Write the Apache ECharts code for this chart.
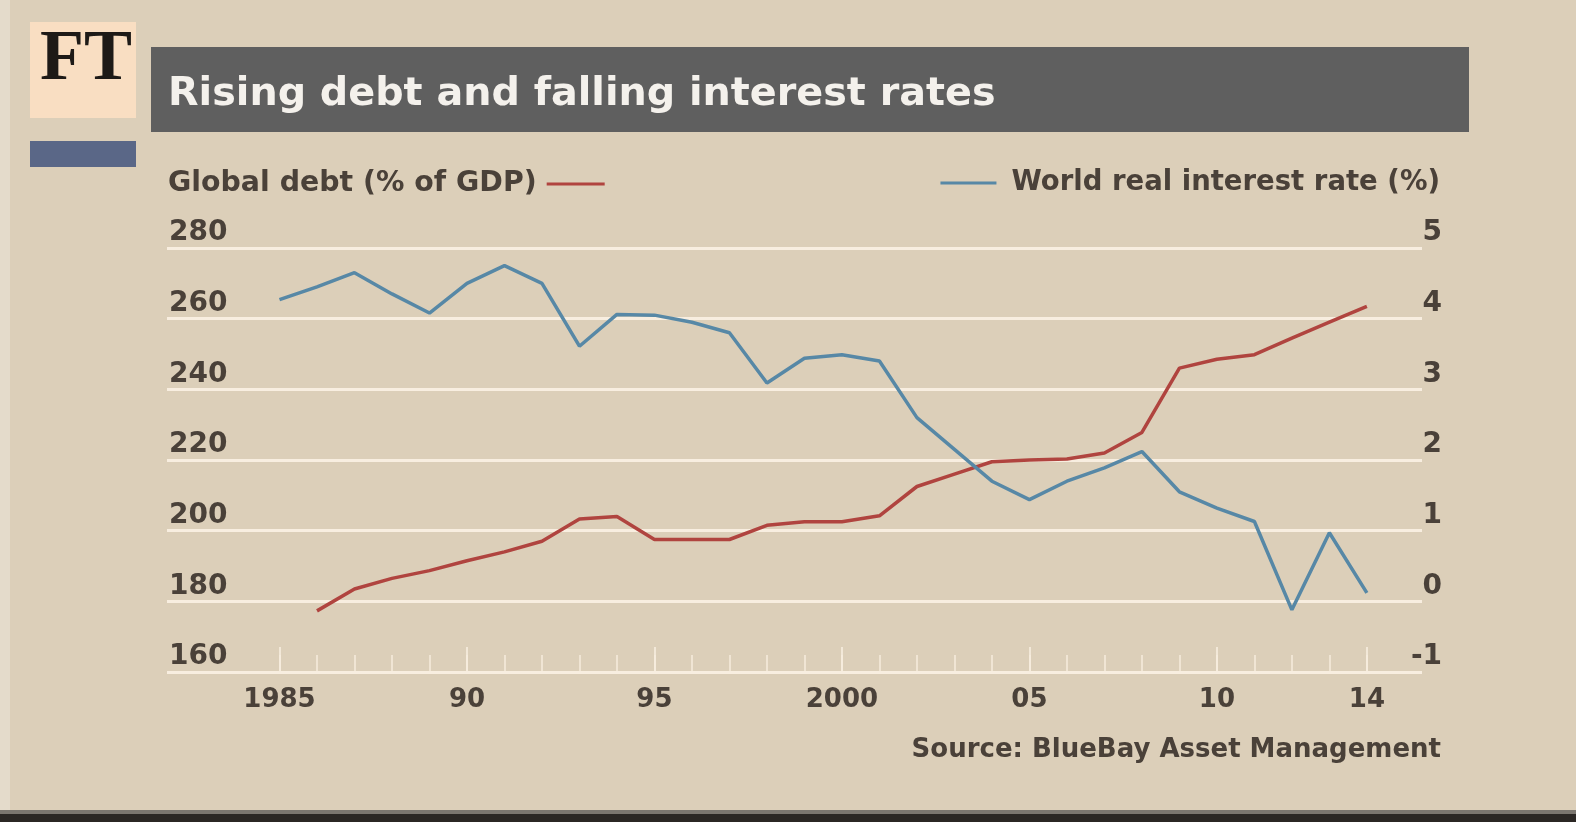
<!DOCTYPE html>
<html>
<head>
<meta charset="utf-8">
<title>Rising debt and falling interest rates</title>
<script src="https://cdn.jsdelivr.net/npm/echarts@6/dist/echarts.min.js"></script>
<style>
  html, body { margin: 0; padding: 0; background: #dccfb9; }
  #chart { width: 1576px; height: 822px; }
</style>
</head>
<body>
<div id="chart"></div>
<script>
// Global debt, % of GDP (left axis)
const debtYears = [1986, 1987, 1988, 1989, 1990, 1991, 1992, 1993, 1994, 1995,
  1996, 1997, 1998, 1999, 2000, 2001, 2002, 2003, 2004, 2005,
  2006, 2007, 2008, 2009, 2010, 2011, 2012, 2013, 2014];
const debtValues = [177.3, 183.5, 186.5, 188.7, 191.5, 194.0, 197.0, 203.3, 204.0, 197.5,
  197.5, 197.5, 201.5, 202.5, 202.5, 204.2, 212.5, 216.0, 219.5, 220.0,
  220.3, 222.0, 227.8, 246.0, 248.5, 249.8, 254.5, 259.0, 263.5];

// World real interest rate, % (right axis)
const rateYears = [1985, 1986, 1987, 1988, 1989, 1990, 1991, 1992, 1993, 1994,
  1995, 1996, 1997, 1998, 1999, 2000, 2001, 2002, 2003, 2004,
  2005, 2006, 2007, 2008, 2009, 2010, 2011, 2012, 2013, 2014];
const rateValues = [4.27, 4.45, 4.65, 4.35, 4.08, 4.50, 4.75, 4.50, 3.61, 4.06,
  4.05, 3.95, 3.80, 3.09, 3.44, 3.49, 3.40, 2.60, 2.15, 1.70,
  1.44, 1.70, 1.89, 2.12, 1.55, 1.32, 1.13, -0.12, 0.97, 0.12];

// x-axis labels and tick positions
const labelYears = [1985, 1990, 1995, 2000, 2005, 2010, 2014];
const labelTexts = ['1985', '90', '95', '2000', '05', '10', '14'];
const minorTickYears = [1985, 1986, 1987, 1988, 1989, 1990, 1991, 1992, 1993, 1994,
  1995, 1996, 1997, 1998, 1999, 2000, 2001, 2002, 2003, 2004,
  2005, 2006, 2007, 2008, 2009, 2010, 2011, 2012, 2013, 2014];

const seriesNames = ['Global debt (% of GDP)', 'World real interest rate (%)'];
const titleText = 'Rising debt and falling interest rates';
const sourceText = 'Source: BlueBay Asset Management';

const RED = '#b0443f';
const BLUE = '#5788a6';
const INK = '#4a4139';
const GRID = '#f8eee0';
const FONT = '"DejaVu Sans", sans-serif';

const chart = echarts.init(document.getElementById('chart'));

const xLabelFor = v => {
  const i = labelYears.indexOf(Math.round(v));
  return i >= 0 ? labelTexts[i] : '';
};

const textBase = size => ({
  color: INK, fontFamily: FONT, fontWeight: 'bold', fontSize: size
});

chart.setOption({
  backgroundColor: '#dccfb9',
  animation: false,
  grid: { left: 167, top: 248, width: 1255, height: 424 },
  legend: [
    {
      data: [seriesNames[0]], left: 168, top: 170, padding: 0, align: 'right',
      icon: 'rect', itemWidth: 58, itemHeight: 3,
      textStyle: Object.assign({ padding: [0, 5, 0, 0] }, textBase(28.4))
    },
    {
      data: [seriesNames[1]], right: 136, top: 169, padding: 0, align: 'left',
      icon: 'rect', itemWidth: 56, itemHeight: 3,
      textStyle: Object.assign({ padding: [0, 0, 0, 10] }, textBase(27.5))
    }
  ],
  xAxis: [
    {
      type: 'value', min: 1982, max: 2015.47, position: 'bottom',
      splitLine: { show: false },
      axisLine: { show: false, onZero: false },
      axisTick: {
        show: true, inside: true, length: 25, customValues: labelYears,
        lineStyle: { color: GRID, width: 2, opacity: 0.8 }
      },
      axisLabel: Object.assign({
        customValues: labelYears, formatter: xLabelFor, margin: 15
      }, textBase(26))
    },
    {
      type: 'value', min: 1982, max: 2015.47, position: 'bottom',
      splitLine: { show: false },
      axisLine: { show: false, onZero: false },
      axisTick: {
        show: true, inside: true, length: 17, customValues: minorTickYears,
        lineStyle: { color: GRID, width: 2, opacity: 0.7 }
      },
      axisLabel: { show: false }
    }
  ],
  yAxis: [
    {
      type: 'value', min: 160, max: 280, interval: 20, position: 'left',
      axisLine: { show: false }, axisTick: { show: false },
      splitLine: { show: true, lineStyle: { color: GRID, width: 3 } },
      axisLabel: Object.assign({
        align: 'left', verticalAlign: 'bottom', margin: -2, lineHeight: 30
      }, textBase(28))
    },
    {
      type: 'value', min: -1, max: 5, interval: 1, position: 'right',
      axisLine: { show: false }, axisTick: { show: false },
      splitLine: { show: false },
      axisLabel: Object.assign({
        align: 'right', verticalAlign: 'bottom', margin: 20, lineHeight: 30
      }, textBase(28))
    }
  ],
  series: [
    {
      name: seriesNames[0], type: 'line', xAxisIndex: 0, yAxisIndex: 0,
      data: debtYears.map((y, i) => [y, debtValues[i]]),
      showSymbol: false, symbol: 'none',
      color: RED, lineStyle: { color: RED, width: 3.5 }
    },
    {
      name: seriesNames[1], type: 'line', xAxisIndex: 0, yAxisIndex: 1,
      data: rateYears.map((y, i) => [y, rateValues[i]]),
      showSymbol: false, symbol: 'none',
      color: BLUE, lineStyle: { color: BLUE, width: 3.5 }
    }
  ],
  graphic: [
    // lighter left edge strip
    { type: 'rect', shape: { x: 0, y: 0, width: 10, height: 810 }, style: { fill: '#e4dbcb' }, silent: true },
    // FT masthead block
    { type: 'rect', shape: { x: 30, y: 22, width: 106, height: 96 }, style: { fill: '#f9dec2' } },
    {
      type: 'text', left: 40, top: 24,
      style: { text: 'FT', fill: '#1e1a17', font: 'bold 72px "Liberation Serif", "DejaVu Serif", serif' }
    },
    { type: 'rect', shape: { x: 30, y: 141, width: 106, height: 26 }, style: { fill: '#5a6787' } },
    // title bar
    { type: 'rect', shape: { x: 151, y: 47, width: 1318, height: 85 }, style: { fill: '#5f5f5f' } },
    {
      type: 'text', left: 168, top: 75,
      style: { text: titleText, fill: '#f4f1ec', font: 'bold 39.7px "DejaVu Sans", sans-serif' }
    },
    // source note
    {
      type: 'text', right: 135, top: 737,
      style: { text: sourceText, fill: INK, font: 'bold 26px ' + FONT, textAlign: 'right' }
    },
    // bottom rule
    { type: 'rect', shape: { x: 0, y: 810, width: 1576, height: 4 }, style: { fill: '#7b766f' } },
    { type: 'rect', shape: { x: 0, y: 814, width: 1576, height: 8 }, style: { fill: '#2b2724' } }
  ]
});
</script>
</body>
</html>
